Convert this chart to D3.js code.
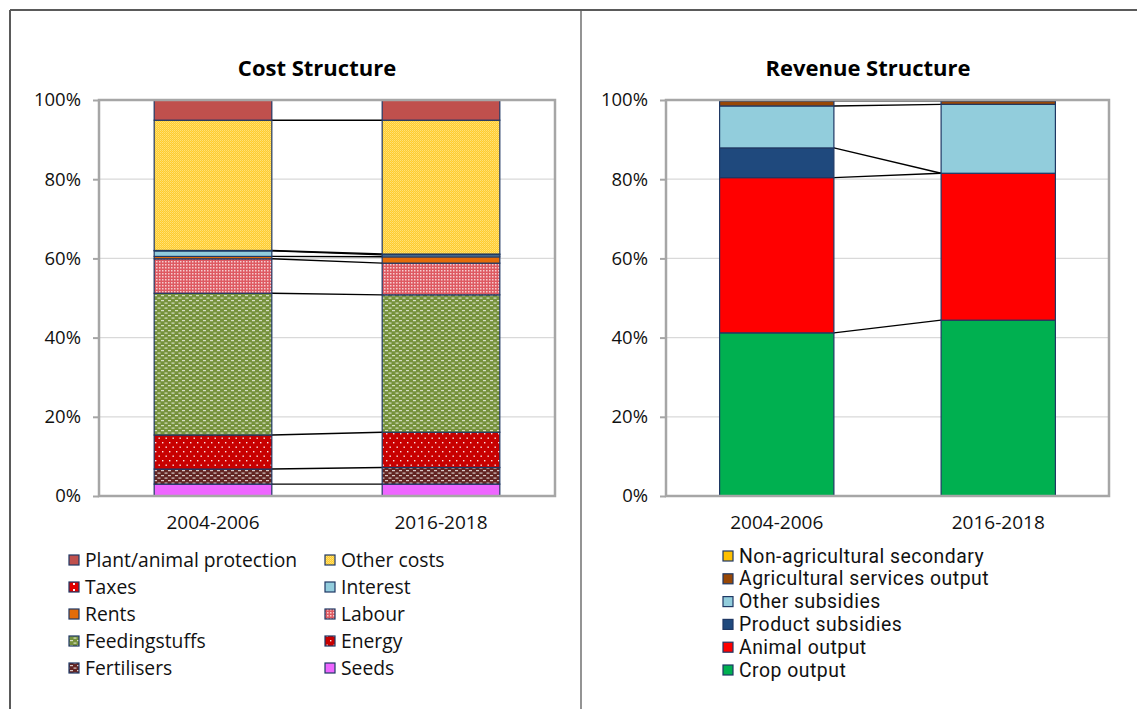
<!DOCTYPE html>
<html>
<head>
<meta charset="utf-8">
<script src="https://cdn.jsdelivr.net/npm/d3@7"></script>
<style>
  html, body { margin: 0; padding: 0; background: #fff; }
  svg { display: block; font-family: "Open Sans", "Noto Sans", sans-serif; }
</style>
</head>
<body>
<svg id="chart" width="1137" height="709"></svg>
<script>
// ---------- DATA ----------
const periods = ["2004-2006", "2016-2018"];
const yTicks = [0, 20, 40, 60, 80, 100];

// Cost structure (stack order bottom -> top), % of total
const costSeries = ["Seeds", "Fertilisers", "Energy", "Feedingstuffs", "Labour", "Rents", "Interest", "Taxes", "Other costs", "Plant/animal protection"];
const cost2004 = [3.0, 3.8, 8.6, 35.8, 8.7, 0.6, 1.4, 0.1, 32.9, 5.1];
const cost2016 = [3.0, 4.2, 8.9, 34.7, 8.0, 1.6, 0.5, 0.2, 33.8, 5.1];
const costLegendOrder = ["Plant/animal protection", "Other costs", "Taxes", "Interest", "Rents", "Labour", "Feedingstuffs", "Energy", "Fertilisers", "Seeds"];

// Revenue structure (stack order bottom -> top), % of total
const revSeries = ["Crop output", "Animal output", "Product subsidies", "Other subsidies", "Agricultural services output", "Non-agricultural secondary"];
const rev2004 = [41.2, 39.2, 7.5, 10.6, 1.3, 0.2];
const rev2016 = [44.4, 37.1, 0.0, 17.4, 0.9, 0.2];
const revLegendOrder = ["Non-agricultural secondary", "Agricultural services output", "Other subsidies", "Product subsidies", "Animal output", "Crop output"];

// ---------- STYLE ----------
const costFill = {
  "Seeds": "#EE66FF",
  "Fertilisers": "url(#pFert)",
  "Energy": "url(#pEnergy)",
  "Feedingstuffs": "url(#pFeed)",
  "Labour": "url(#pLabour)",
  "Rents": "#E46C0A",
  "Interest": "#93CDDD",
  "Taxes": "url(#pTaxes)",
  "Other costs": "url(#pOther)",
  "Plant/animal protection": "#C0504D"
};
const revFill = {
  "Crop output": "#00B050",
  "Animal output": "#FF0000",
  "Product subsidies": "#1F497D",
  "Other subsidies": "#92CDDC",
  "Agricultural services output": "#974706",
  "Non-agricultural secondary": "#FFC000"
};

const svg = d3.select("#chart");
const defs = svg.append("defs");

function dotPattern(id, w, h, base, marks) {
  const p = defs.append("pattern").attr("id", id).attr("patternUnits", "userSpaceOnUse")
    .attr("width", w).attr("height", h);
  p.append("rect").attr("width", w).attr("height", h).attr("fill", base);
  marks.forEach(m => p.append("rect").attr("x", m[0]).attr("y", m[1]).attr("width", m[2]).attr("height", m[3])
    .attr("fill", m[4] || "#fff").attr("opacity", m[5] == null ? 1 : m[5]));
}
dotPattern("pOther", 2, 2, "#FFCC2E", [[0, 0, 1, 1, "#FFE27A"], [1, 1, 1, 1, "#FFDA5C"]]);
dotPattern("pLabour", 3, 3, "#DE5A62", [[0, 0, 1.5, 1.5, "#fff", 0.7]]);
dotPattern("pFeed", 7, 5, "#76923C", [[0, 0, 3, 1.2, "#fff", 0.7], [3.5, 2.5, 3, 1.2, "#fff", 0.7]]);
dotPattern("pFert", 7, 5, "#632523", [[0, 0, 3, 1.2, "#fff", 0.75], [3.5, 2.5, 3, 1.2, "#fff", 0.75]]);
dotPattern("pEnergy", 7, 9, "#C80000", [[1, 1, 1.4, 1.4, "#fff", 0.9], [4.5, 5.5, 1.4, 1.4, "#fff", 0.9]]);
dotPattern("pTaxes", 6, 6, "#E00000", [[1, 1, 2, 2, "#fff", 0.95]]);

// ---------- FRAME ----------
const frame = svg.append("g").attr("stroke", "#5a5a5a").attr("stroke-width", 2);
frame.append("line").attr("x1", 10).attr("x2", 1137).attr("y1", 10).attr("y2", 10);
frame.append("line").attr("x1", 10).attr("x2", 10).attr("y1", 10).attr("y2", 709);
frame.append("line").attr("x1", 581).attr("x2", 581).attr("y1", 10).attr("y2", 709).attr("stroke-width", 1.3);

// ---------- CHART FUNCTION ----------
function drawChart(opts) {
  const { title, titleX, x0, x1, series, values, fills } = opts;
  const g = svg.append("g");
  const y = d3.scaleLinear().domain([0, 100]).range([496, 100]);
  const x = d3.scaleBand().domain(periods).range([x0, x1]).paddingInner(0.484).paddingOuter(0.242);

  // title
  g.append("text").attr("x", titleX).attr("y", 76).attr("text-anchor", "middle")
    .attr("font-size", 22).attr("font-weight", "bold").attr("fill", "#000").text(title);

  // gridlines
  g.append("g").selectAll("line").data(yTicks.filter(t => t > 0 && t < 100)).join("line")
    .attr("x1", x0).attr("x2", x1).attr("y1", d => y(d)).attr("y2", d => y(d))
    .attr("stroke", "#D9D9D9").attr("stroke-width", 1.2);

  // y axis
  const yAxis = d3.axisLeft(y).tickValues(yTicks).tickFormat(d => d + "%").tickSize(6).tickPadding(12);
  const ag = g.append("g").attr("transform", `translate(${x0},0)`).call(yAxis);
  ag.select(".domain").remove();
  ag.selectAll(".tick line").attr("stroke", "#A6A6A6").attr("stroke-width", 2);
  ag.selectAll(".tick text").attr("font-size", 18.5).attr("fill", "#111").attr("font-family", "'Open Sans', sans-serif");

  // stacked data
  const rows = periods.map((p, i) => {
    const o = { period: p };
    series.forEach((s, k) => o[s] = values[i][k]);
    return o;
  });
  const stack = d3.stack().keys(series)(rows);

  // series connector lines (top of each series)
  const bw = x.bandwidth();
  const lines = g.append("g");
  stack.forEach(layer => {
    lines.append("line")
      .attr("x1", x(periods[0]) + bw).attr("y1", y(layer[0][1]))
      .attr("x2", x(periods[1])).attr("y2", y(layer[1][1]))
      .attr("stroke", "#000").attr("stroke-width", 1.4);
  });

  // bars
  stack.forEach(layer => {
    g.append("g").selectAll("rect").data(layer).join("rect")
      .attr("x", d => x(d.data.period))
      .attr("y", d => y(d[1]))
      .attr("width", bw)
      .attr("height", d => Math.max(0, y(d[0]) - y(d[1])))
      .attr("fill", fills[layer.key])
      .attr("stroke", "#1F3864").attr("stroke-width", d => (d[1] - d[0]) > 0 ? 1.2 : 0);
  });

  // plot frame
  g.append("rect").attr("x", x0).attr("y", 100).attr("width", x1 - x0).attr("height", 396)
    .attr("fill", "none").attr("stroke", "#A6A6A6").attr("stroke-width", 2.5);

  // x labels
  g.append("g").selectAll("text").data(periods).join("text")
    .attr("x", d => x(d) + bw / 2).attr("y", 529).attr("text-anchor", "middle")
    .attr("font-size", 19).attr("fill", "#111").text(d => d);

  return g;
}

drawChart({ title: "Cost Structure", titleX: 317, x0: 99, x1: 555, series: costSeries,
  values: [cost2004, cost2016], fills: costFill });
drawChart({ title: "Revenue Structure", titleX: 868, x0: 666, x1: 1109, series: revSeries,
  values: [rev2004, rev2016], fills: revFill });

// ---------- LEGENDS ----------
const lg1 = svg.append("g");
costLegendOrder.forEach((s, i) => {
  const col = i % 2, row = Math.floor(i / 2);
  const lx = col === 0 ? 69 : 325, ly = 560 + row * 27;
  lg1.append("rect").attr("x", lx).attr("y", ly - 5).attr("width", 10).attr("height", 10)
    .attr("fill", costFill[s]).attr("stroke", "#1F3864").attr("stroke-width", 1.2);
  lg1.append("text").attr("x", lx + 16).attr("y", ly + 6.5).attr("font-size", 19.3).attr("fill", "#111").text(s);
});

const lg2 = svg.append("g");
revLegendOrder.forEach((s, i) => {
  const lx = 723, ly = 556 + i * 22.8;
  lg2.append("rect").attr("x", lx).attr("y", ly - 5).attr("width", 10).attr("height", 10)
    .attr("fill", revFill[s]).attr("stroke", "#1F3864").attr("stroke-width", 1.2);
  lg2.append("text").attr("x", lx + 16).attr("y", ly + 6.5).attr("font-size", 19.4)
    .attr("letter-spacing", 0.5)
    .attr("font-family", "Roboto, 'Open Sans', sans-serif").attr("fill", "#111").text(s);
});
</script>
</body>
</html>
